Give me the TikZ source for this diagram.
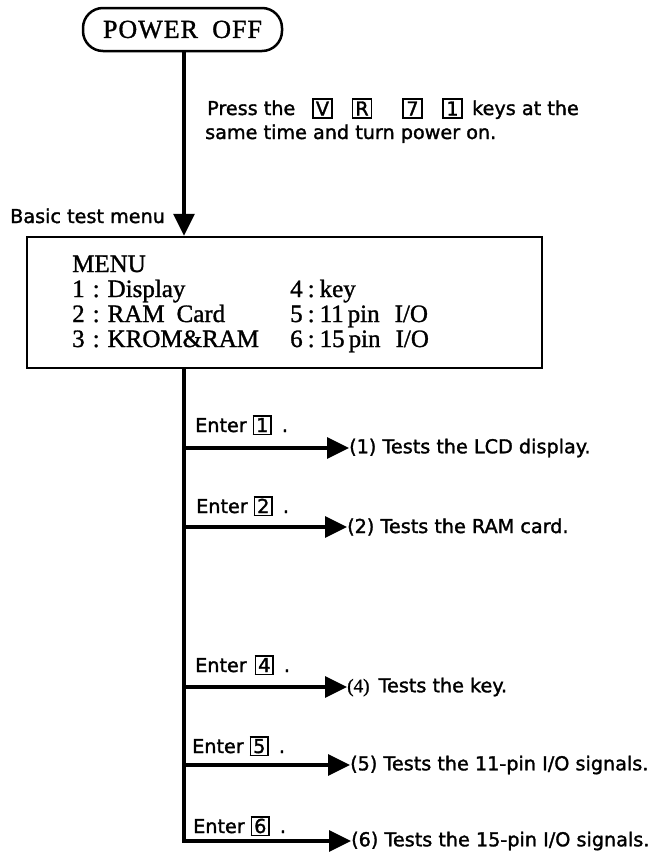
\documentclass[tikz,border=0pt]{standalone}
\usepackage{fontspec}
\newfontfamily\labelsans{DejaVu Sans}[FakeBold=1.6]
\newfontfamily\menuserif{Liberation Serif}[FakeBold=1.2]
\usetikzlibrary{arrows.meta}
\newcommand\keyframe[1]{{\setlength\fboxsep{0pt}\setlength\fboxrule{1.6pt}\fbox{\makebox[16pt]{\rule[-1.5pt]{0pt}{17pt}#1}}}}
\tikzset{
  sans/.style={font=\labelsans\fontsize{19.2}{22}\selectfont},
  serifbig/.style={font=\menuserif\fontsize{25}{27}\selectfont},
  arr/.style={line width=3.2pt,-{Triangle[length=22pt,width=21pt]}},
  keybox/.style={draw,line width=1.6pt,minimum width=19pt,minimum height=19pt,inner sep=0pt,sans},
  txt/.style={inner sep=0pt,anchor=base west},
  result/.style={sans,anchor=west,inner sep=0pt},
}
\begin{document}
\begin{tikzpicture}[x=1pt,y=-1pt]
\useasboundingbox (0,0) rectangle (669,855);
% power off
\node[draw,line width=2.5pt,rounded corners=20pt,minimum width=199pt,minimum height=43pt,
      font=\menuserif\fontsize{26}{28}\selectfont] (power) at (182.5,29.5) {P\kern1ptO\kern1ptW\kern1ptE\kern1ptR\hspace{0.55em}O\kern1ptF\kern1ptF};
% menu box
\node[draw,line width=2.5pt,minimum width=515pt,minimum height=131pt,inner sep=0pt] (menu) at (284.5,302.5) {};
\coordinate (tt) at (184,0);
\draw[arr] (power.south -| tt) -- (menu.north -| tt);
% press text
\node[txt,sans] (press) at (207,115) {Press the};
\node[keybox] (kv) at (322.5,108.5) {V};
\node[keybox] (kr) at (362,108.5) {R};
\node[keybox] (k7) at (412.5,108.5) {7};
\node[keybox] (k1) at (452.5,108.5) {1};
\node[txt,sans] (keys) at (472,115) {keys at the};
\node[txt,sans] (same) at (205,139) {same time and turn power on.};
\node[txt,sans] (basic) at (10,223) {Basic test menu};
% menu text
\node[txt,serifbig] (mt) at (72,272) {MENU};
\node[txt,serifbig] (m1) at (72,297) {1\hspace{8pt}:\hspace{8pt}Display};
\node[txt,serifbig] (m2) at (72,322) {2\hspace{8pt}:\hspace{8pt}RAM\hspace{12pt}Card};
\node[txt,serifbig] (m3) at (72,347) {3\hspace{8pt}:\hspace{8pt}KROM\&RAM};
\node[txt,serifbig] (m4) at (290,297) {4\hspace{5pt}:\hspace{5pt}key};
\node[txt,serifbig] (m5) at (290,322) {5\hspace{5pt}:\hspace{5pt}11\hspace{4pt}pin\hspace{15pt}I/O};
\node[txt,serifbig] (m6) at (290,347) {6\hspace{5pt}:\hspace{5pt}15\hspace{4pt}pin\hspace{15pt}I/O};
% enter labels
\node[txt,sans] (e1) at (195,432) {Enter\hspace{6pt}\keyframe{1}\hspace{10pt}.};
\node[txt,sans] (e2) at (196,513) {Enter\hspace{6pt}\keyframe{2}\hspace{10pt}.};
\node[txt,sans] (e4) at (195,672) {Enter\hspace{8pt}\keyframe{4}\hspace{10pt}.};
\node[txt,sans] (e5) at (192,753) {Enter\hspace{6pt}\keyframe{5}\hspace{10pt}.};
\node[txt,sans] (e6) at (193,833) {Enter\hspace{6pt}\keyframe{6}\hspace{10pt}.};
% results
\node[result] (r1) at (349,448) {(1) Tests the LCD display.};
\node[result] (r2) at (347,527) {(2) Tests the RAM card.};
\node[result] (r4) at (347,687) {{\menuserif (4)}\hspace{9pt}Tests the key.};
\node[result] (r5) at (350,765) {(5) Tests the 11-pin I/O signals.};
\node[result] (r6) at (351,841) {(6) Tests the 15-pin I/O signals.};
% connectors
\draw[arr] (menu.south -| tt) |- (r6.west);
\draw[arr] (r1.west -| tt) -- (r1.west);
\draw[arr] (r2.west -| tt) -- (r2.west);
\draw[arr] (r4.west -| tt) -- (r4.west);
\draw[arr] (r5.west -| tt) -- (r5.west);
\end{tikzpicture}
\end{document}
